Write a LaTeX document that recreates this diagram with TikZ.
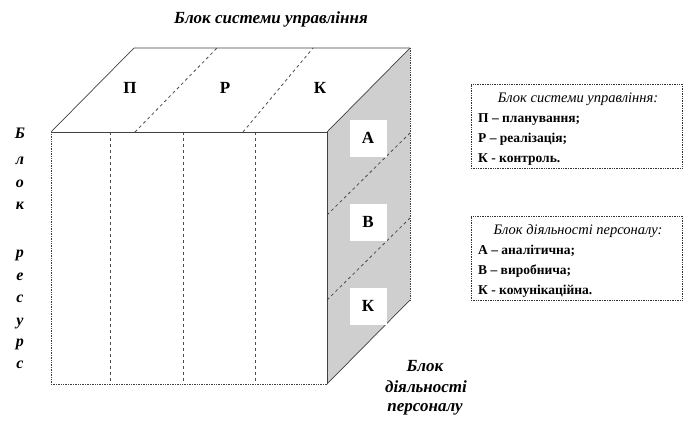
\documentclass[tikz,border=0pt]{standalone}
\usepackage{fontspec}
\setmainfont{Liberation Serif}
\begin{document}
\begin{tikzpicture}[x=1pt,y=-1pt,
  edge/.style={draw=black!75, line width=0.7pt},
  dotedge/.style={draw=black!75, line width=0.7pt, densely dotted},
  divider/.style={draw=black!70, line width=0.8pt, dash pattern=on 3pt off 3pt},
  facelbl/.style={font=\fontsize{17}{17}\selectfont\bfseries},
  whitebox/.style={fill=white, minimum width=37pt, minimum height=37pt, inner sep=0pt, font=\fontsize{17}{17}\selectfont\bfseries},
  blocktitle/.style={font=\fontsize{17}{17}\selectfont\bfseries\itshape},
  vletter/.style={font=\fontsize{16}{16}\selectfont\bfseries\itshape, anchor=base},
  legend/.style={draw=black!80, densely dotted, line width=0.7pt, minimum width=211pt, minimum height=84pt, inner sep=0pt},
  legtitle/.style={font=\fontsize{14.5}{14.5}\selectfont\itshape, anchor=base},
  legitem/.style={font=\fontsize{13.5}{13.5}\selectfont\bfseries, anchor=base west, inner sep=0pt}
]
\useasboundingbox (0,0) rectangle (690,432);
% cube corners
\coordinate (ftl) at (51,132);
\coordinate (ftr) at (327,132);
\coordinate (fbr) at (327,384);
\coordinate (fbl) at (51,384);
\coordinate (btl) at (134,48);
\coordinate (btr) at (410,48);
\coordinate (bbr) at (410,300);
% right face
\fill[black!19] (ftr) -- (btr) -- (bbr) -- (fbr) -- cycle;
\draw[edge] (fbr) -- (bbr);
\draw[edge] (ftr) -- (btr);
\draw[dotedge] (btr) -- (bbr);
% top face
\draw[edge] (ftl) -- (btl) -- (btr);
% front face
\draw[edge] (ftl) -- (ftr) -- (fbr);
\draw[dotedge] (fbr) -- (fbl) -- (ftl);
% front dividers
\foreach \x/\n in {110/a,183/b,255/c}{
  \coordinate (fd\n t) at (\x,132);
  \coordinate (fd\n b) at (\x,384);
  \draw[divider] (fd\n t) -- (fd\n b);
}
% top dividers
\coordinate (td1a) at (135,132); \coordinate (td1b) at (217,48);
\coordinate (td2a) at (243,132); \coordinate (td2b) at (313,48);
\draw[divider] (td1a) -- (td1b);
\draw[divider] (td2a) -- (td2b);
% right dividers
\coordinate (rd1a) at (327,215); \coordinate (rd1b) at (410,133);
\coordinate (rd2a) at (327,300); \coordinate (rd2b) at (410,218);
\draw[divider] (rd1a) -- (rd1b);
\draw[divider] (rd2a) -- (rd2b);
% top labels
\node[facelbl] (tp) at (130,88) {П};
\node[facelbl] (tr) at (225,88) {Р};
\node[facelbl] (tk) at (320,88) {К};
% right face boxes
\node[whitebox] (ra) at (368,138) {А};
\node[whitebox] (rb) at (368,222) {В};
\node[whitebox] (rk) at (368,306) {К};
% titles
\node[blocktitle] (t1) at (271,19) {Блок системи управління};
\node[blocktitle] (t3a) at (425,366) {Блок};
\node[blocktitle] (t3b) at (426,387) {діяльності};
\node[blocktitle] (t3c) at (425,409) {персоналу};
% vertical letters
\foreach \l/\y/\n in {Б/138/1,л/164/2,о/187/3,к/209/4,р/257/5,е/280/6,с/302/7,у/325/8,р/346/9,с/368/10}{
  \node[vletter] (v\n) at (20,\y) {\l};
}
% legends
\node[legend] (L1) at (576.5,126) {};
\node[legtitle] (L1t) at (578,102) {Блок системи управління:};
\node[legitem] (L1a) at (478,122) {П – планування;};
\node[legitem] (L1b) at (478,142) {Р – реалізація;};
\node[legitem] (L1c) at (478,162) {К - контроль.};
\node[legend] (L2) at (576.5,258) {};
\node[legtitle] (L2t) at (578,234) {Блок діяльності персоналу:};
\node[legitem] (L2a) at (478,254) {А – аналітична;};
\node[legitem] (L2b) at (478,274) {В – виробнича;};
\node[legitem] (L2c) at (478,294) {К - комунікаційна.};
\end{tikzpicture}
\end{document}
